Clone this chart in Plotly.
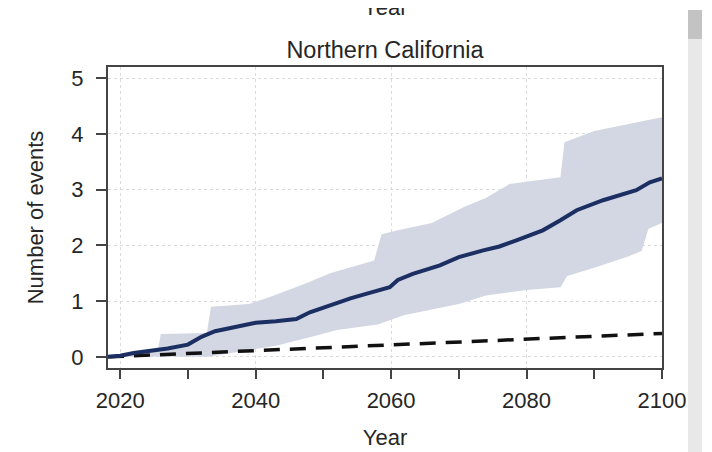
import plotly.graph_objects as go

# Ensemble mean
mean_years = [2018.2, 2020, 2022, 2024, 2027, 2030, 2032, 2034, 2036.6, 2040, 2043, 2046, 2048,
              2051.4, 2054, 2056.3, 2059.8, 2061, 2063.2, 2067.2, 2070, 2073.6, 2076, 2078.5,
              2082.4, 2085, 2087.4, 2091.3, 2096.2, 2098.2, 2100]
mean_vals = [0.0, 0.02, 0.07, 0.1, 0.15, 0.22, 0.36, 0.46, 0.53, 0.61, 0.64, 0.68, 0.8,
             0.95, 1.05, 1.13, 1.25, 1.38, 1.49, 1.64, 1.79, 1.91, 1.98, 2.09,
             2.27, 2.45, 2.63, 2.81, 2.99, 3.13, 3.2]

# Uncertainty band (upper / lower)
upper_years = [2018.2, 2020, 2024, 2025.6, 2026, 2032.8, 2033.4, 2039, 2042, 2047, 2051, 2057.5,
               2058.6, 2061, 2066, 2071, 2074, 2077.5, 2085, 2085.6, 2090, 2096, 2100]
upper_vals = [0.0, 0.05, 0.12, 0.15, 0.41, 0.43, 0.9, 0.95, 1.07, 1.3, 1.5, 1.73,
              2.2, 2.27, 2.4, 2.7, 2.85, 3.1, 3.22, 3.85, 4.05, 4.2, 4.3]
lower_years = [2018.2, 2033, 2038, 2043, 2048, 2052, 2058, 2062, 2066, 2070, 2074, 2080,
               2085, 2086, 2090, 2095, 2097, 2098, 2100]
lower_vals = [0.0, 0.0, 0.1, 0.2, 0.35, 0.48, 0.58, 0.75, 0.85, 0.95, 1.1, 1.2,
              1.25, 1.45, 1.6, 1.8, 1.9, 2.3, 2.4]

# Baseline (dashed)
base_years = [2018.2, 2100]
base_vals = [0.0, 0.42]

x_major_ticks = [2020, 2040, 2060, 2080, 2100]
y_ticks = [0, 1, 2, 3, 4, 5]

FONT = "Liberation Sans, Arial, sans-serif"
TXT = "#262626"
AX = "#444444"

# page body has an 8px margin; figure coordinates are screen minus 8
W, H = 704, 444
L, R, T, B = 99.5, 50, 59, 84
PW = W - L - R
PH = H - T - B

fig = go.Figure()
fig.add_trace(go.Scatter(x=upper_years + lower_years[::-1], y=upper_vals + lower_vals[::-1],
                         mode="lines", fill="toself", fillcolor="#d2d7e3", line=dict(width=0),
                         showlegend=False, hoverinfo="skip"))
fig.add_trace(go.Scatter(x=base_years, y=base_vals, mode="lines",
                         line=dict(color="#111111", width=3.5, dash="16px,10px"), showlegend=False))
fig.add_trace(go.Scatter(x=mean_years, y=mean_vals, mode="lines",
                         line=dict(color="#1c2f62", width=4), showlegend=False))

fig.update_layout(
    width=W, height=H,
    margin=dict(l=L, r=R, t=T, b=B),
    paper_bgcolor="white", plot_bgcolor="white",
    font=dict(family=FONT, size=22, color=TXT),
    title=dict(text="Northern California", x=(385 - 8) / W, xanchor="center",
               y=1 - (50 - 8) / H, yanchor="middle", font=dict(size=23.5, color=TXT)),
    showlegend=False,
)
fig.update_xaxes(
    range=[2018.2, 2100], tickvals=x_major_ticks, ticks="outside", ticklen=9, tickwidth=2,
    tickcolor=AX, showline=True, linecolor=AX, linewidth=2, mirror=True, automargin=False,
    showgrid=True, gridcolor="#dadada", griddash="dot", gridwidth=1, zeroline=False,
    tickfont=dict(size=22, color=TXT), ticklabelstandoff=3,
    minor=dict(dtick=10, tick0=2020, ticks="outside", ticklen=9, tickwidth=2, tickcolor=AX,
               showgrid=False),
    title=dict(text="Year", font=dict(size=22, color=TXT), standoff=17),
)
fig.update_yaxes(
    range=[-0.2, 5.2], tickvals=y_ticks, ticks="outside", ticklen=10, tickwidth=2,
    tickcolor=AX, showline=True, linecolor=AX, linewidth=2, mirror=True, automargin=False,
    showgrid=True, gridcolor="#dadada", griddash="dot", gridwidth=1, zeroline=False,
    tickfont=dict(size=22, color=TXT), ticklabelstandoff=8,
    title=dict(text="Number of events", font=dict(size=22, color=TXT), standoff=22),
)

def px_x(p):
    return (p - 8 - L) / PW

def px_y(p):
    return (H - B - (p - 8)) / PH

# Cropped axis label of panel above
fig.add_annotation(text="Year", xref="paper", yref="paper", x=px_x(385),
                   y=px_y(7), xanchor="center", yanchor="middle", showarrow=False,
                   font=dict(size=22, color=TXT))

# Scrollbar artifact at right edge
fig.add_shape(type="rect", xref="paper", yref="paper", x0=px_x(688), x1=px_x(702),
              y0=px_y(460), y1=px_y(10), fillcolor="#e8e8e8", line=dict(width=0), layer="below")
fig.add_shape(type="rect", xref="paper", yref="paper", x0=px_x(688), x1=px_x(702),
              y0=px_y(39), y1=px_y(10), fillcolor="#c3c3c3", line=dict(width=0), layer="below")

fig.write_html("out.html")
